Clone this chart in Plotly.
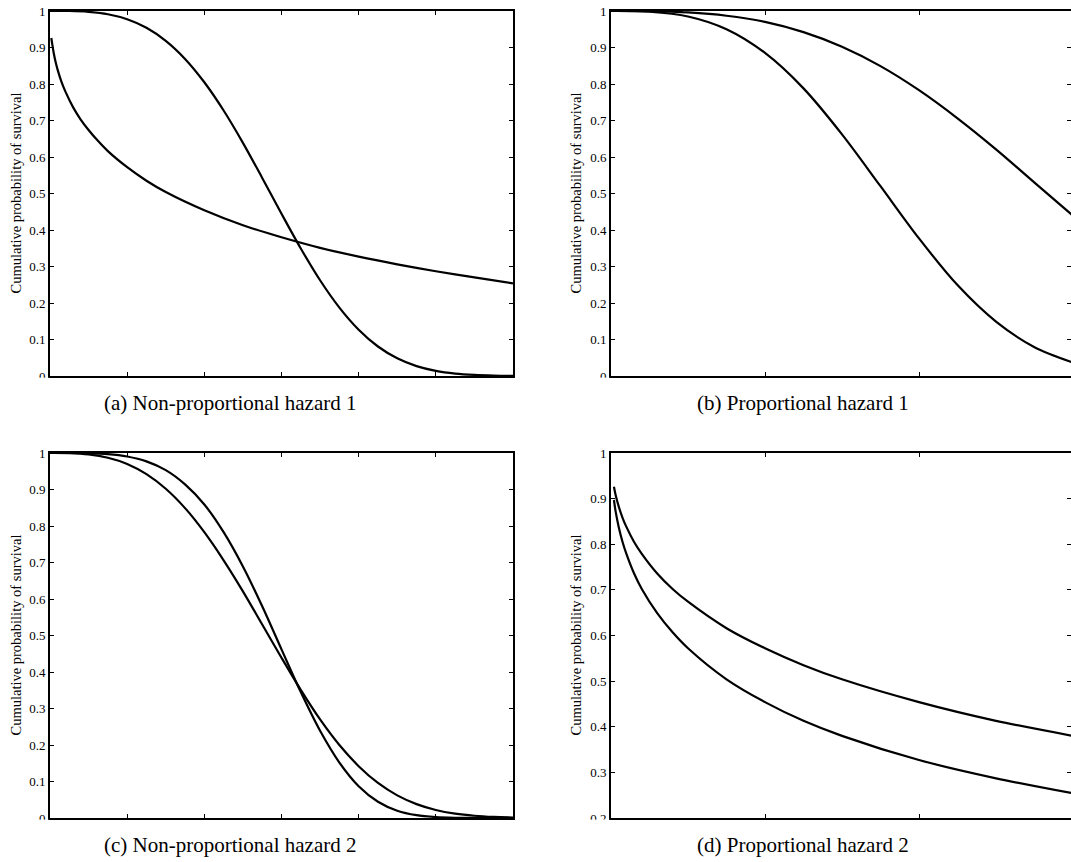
import plotly.graph_objects as go

# ---------------- data ----------------
# Panel (a): Non-proportional hazard 1  (x axis 0..6)
a1_x = [0, 0.25, 0.5, 0.75, 1.0, 1.25, 1.5, 1.75, 2.0, 2.25, 2.5, 2.75, 3.0, 3.25, 3.5, 3.75,
        4.0, 4.25, 4.5, 4.75, 5.0, 5.25, 5.5, 5.75, 6.0]
a1_y = [1.0, 1.0, 0.9976, 0.9911, 0.9774, 0.954, 0.9183, 0.8688, 0.8048, 0.7274, 0.6388,
        0.5427, 0.4445, 0.3494, 0.2623, 0.1874, 0.1268, 0.0808, 0.0484, 0.027, 0.014, 0.0067,
        0.003, 0.0012, 0.00045]
a2_x = [0.017, 0.03, 0.05, 0.075, 0.1, 0.15, 0.2, 0.3, 0.4, 0.5, 0.6, 0.75, 1.0, 1.25, 1.5,
        2.0, 2.5, 3.0, 3.5, 4.0, 4.5, 5.0, 5.5, 6.0]
a2_y = [0.926, 0.908, 0.883, 0.858, 0.838, 0.805, 0.779, 0.736, 0.702, 0.674, 0.649, 0.616,
        0.572, 0.535, 0.504, 0.454, 0.413, 0.380, 0.351, 0.327, 0.306, 0.287, 0.270, 0.254]

# Panel (b): Proportional hazard 1  (x axis 0..3)
b_x = [0, 0.25, 0.5, 0.75, 1.0, 1.25, 1.5, 1.75, 2.0, 2.25, 2.5, 2.75, 3.0]
b1_y = [1.0, 0.9995, 0.996, 0.987, 0.970, 0.942, 0.902, 0.849, 0.783, 0.706, 0.621, 0.530, 0.439]
b2_y = [1.0, 0.998, 0.985, 0.950, 0.885, 0.788, 0.662, 0.520, 0.377, 0.249, 0.149, 0.079, 0.037]

# Panel (c): Non-proportional hazard 2  (x axis 0..6)
c_x = [0, 0.25, 0.5, 0.75, 1.0, 1.25, 1.5, 1.75, 2.0, 2.25, 2.5, 2.75, 3.0, 3.25, 3.5, 3.75,
       4.0, 4.25, 4.5, 4.75, 5.0, 5.25, 5.5, 5.75, 6.0]
c1_y = [1.0, 1.0, 0.9994, 0.997, 0.9905, 0.977, 0.953, 0.914, 0.859, 0.783, 0.689, 0.580,
        0.462, 0.345, 0.239, 0.152, 0.087, 0.0445, 0.020, 0.0078, 0.0026, 0.0007, 0.0002,
        0.00003, 0.0]
c2_y = [1.0, 0.9995, 0.996, 0.987, 0.970, 0.942, 0.902, 0.849, 0.783, 0.706, 0.621, 0.530,
        0.439, 0.351, 0.270, 0.200, 0.142, 0.096, 0.062, 0.038, 0.022, 0.012, 0.0062, 0.0030,
        0.0014]

# Panel (d): Proportional hazard 2  (x axis 0..3)
d_x = [0.019, 0.03, 0.05, 0.075, 0.1, 0.15, 0.2, 0.3, 0.4, 0.5, 0.75, 1.0, 1.25, 1.5, 2.0, 2.5, 3.0]
d1_y = [0.926, 0.908, 0.883, 0.858, 0.838, 0.805, 0.779, 0.736, 0.702, 0.674, 0.616, 0.572,
        0.535, 0.504, 0.454, 0.413, 0.380]
d2_y = [0.897, 0.872, 0.838, 0.805, 0.779, 0.736, 0.702, 0.649, 0.607, 0.572, 0.504, 0.454,
        0.413, 0.380, 0.327, 0.287, 0.254]

y_ticks_full = [0, 0.1, 0.2, 0.3, 0.4, 0.5, 0.6, 0.7, 0.8, 0.9, 1]
y_ticks_d = [0.2, 0.3, 0.4, 0.5, 0.6, 0.7, 0.8, 0.9, 1]

captions = ["(a) Non-proportional hazard 1", "(b) Proportional hazard 1",
            "(c) Non-proportional hazard 2", "(d) Proportional hazard 2"]
ytitle = "Cumulative probability of survival"

# ---------------- layout helpers ----------------
W, H = 1071, 862
SERIF = "Liberation Serif, Times New Roman, serif"


def px_x(p):
    return p / W


def px_y(p):
    return 1 - p / H


left_dom = [px_x(50), px_x(513)]
right_dom = [px_x(611), 1.0]
top_dom = [px_y(376), px_y(11)]
bot_dom = [px_y(818), px_y(453)]

line = dict(color="black", width=2.2)

fig = go.Figure()


def add(x, y, xa, ya):
    fig.add_trace(go.Scatter(x=x, y=y, mode="lines", line=dict(shape="spline", smoothing=0.9, **line),
                             xaxis=xa, yaxis=ya, showlegend=False, hoverinfo="skip"))


add(a1_x, a1_y, "x", "y")
add(a2_x, a2_y, "x", "y")
add(b_x, b1_y, "x2", "y2")
add(b_x, b2_y, "x2", "y2")
add(c_x, c1_y, "x3", "y3")
add(c_x, c2_y, "x3", "y3")
add(d_x, d1_y, "x4", "y4")
add(d_x, d2_y, "x4", "y4")
# empty traces for the right-side tick axes of the right panels
fig.add_trace(go.Scatter(x=[], y=[], xaxis="x2", yaxis="y5", showlegend=False))
fig.add_trace(go.Scatter(x=[], y=[], xaxis="x4", yaxis="y6", showlegend=False))

tickfont = dict(family=SERIF, size=13, color="black")
common = dict(showgrid=False, zeroline=False, showline=True, linecolor="black", linewidth=1.6,
              ticks="inside", ticklen=4, tickcolor="black", tickwidth=1, automargin=False)

xcommon = dict(common, mirror="ticks", showticklabels=False, dtick=1, tick0=0)

fig.update_layout(
    template="none",
    width=W, height=H,
    margin=dict(l=0, r=0, t=0, b=0),
    paper_bgcolor="white", plot_bgcolor="white",
    xaxis=dict(xcommon, domain=left_dom, range=[0, 6], anchor="y"),
    yaxis=dict(common, domain=top_dom, range=[0, 1], tickvals=y_ticks_full, mirror="ticks",
               tickfont=tickfont, anchor="x"),
    xaxis2=dict(xcommon, domain=right_dom, range=[0, 2.987], anchor="y2"),
    yaxis2=dict(common, domain=top_dom, range=[0, 1], tickvals=y_ticks_full, mirror=False,
                tickfont=tickfont, anchor="x2"),
    xaxis3=dict(xcommon, domain=left_dom, range=[0, 6], anchor="y3"),
    yaxis3=dict(common, domain=bot_dom, range=[0, 1], tickvals=y_ticks_full, mirror="ticks",
                tickfont=tickfont, anchor="x3"),
    xaxis4=dict(xcommon, domain=right_dom, range=[0, 2.987], anchor="y4"),
    yaxis4=dict(common, domain=bot_dom, range=[0.2, 1], tickvals=y_ticks_d, mirror=False,
                tickfont=tickfont, anchor="x4"),
    yaxis5=dict(overlaying="y2", side="right", anchor="x2", range=[0, 1], tickvals=y_ticks_full,
                showline=False, showgrid=False, zeroline=False, ticks="inside", ticklen=4,
                tickcolor="black", showticklabels=False, automargin=False),
    yaxis6=dict(overlaying="y4", side="right", anchor="x4", range=[0.2, 1], tickvals=y_ticks_d,
                showline=False, showgrid=False, zeroline=False, ticks="inside", ticklen=4,
                tickcolor="black", showticklabels=False, automargin=False),
)

# y-axis titles
for cx, cy in [(15, 193.5), (575, 193.5), (15, 635.5), (575, 635.5)]:
    fig.add_annotation(text=ytitle, x=px_x(cx), y=px_y(cy), xref="paper", yref="paper",
                       showarrow=False, textangle=-90, xanchor="center", yanchor="middle",
                       font=dict(family=SERIF, size=14.5, color="black"))

# captions
for txt, cx, cy in zip(captions, [230, 803, 230, 803], [403, 403, 845, 845]):
    fig.add_annotation(text=txt, x=px_x(cx), y=px_y(cy), xref="paper", yref="paper",
                       showarrow=False, xanchor="center", yanchor="middle",
                       font=dict(family=SERIF, size=21, color="black"))

# the lowest tick labels are partly hidden below the axis line in the reference
for x0, x1, y0 in [(18, 48.5, 377.6), (578, 609.3, 377.6), (18, 48.5, 819.6), (578, 609.3, 819.6)]:
    fig.add_shape(type="rect", xref="paper", yref="paper", layer="above",
                  x0=px_x(x0), x1=px_x(x1), y0=px_y(y0 + 10), y1=px_y(y0),
                  line=dict(width=0), fillcolor="white")

fig.write_html("out.html")
